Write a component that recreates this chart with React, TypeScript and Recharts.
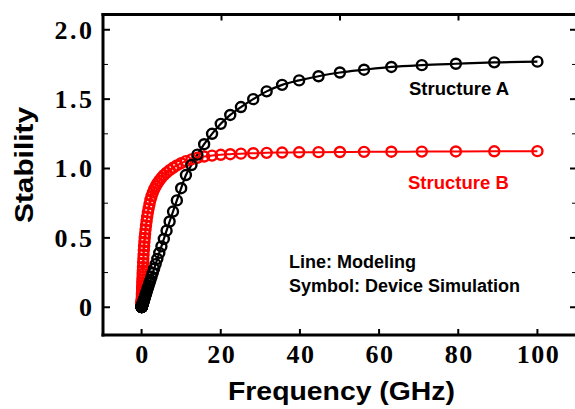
import { ComposedChart, Line, XAxis, YAxis } from "recharts";

// frequency points (GHz), 20 per decade
const FREQ = [
  0.01, 0.0112, 0.0126, 0.0141, 0.0158, 0.0178, 0.02, 0.0224, 0.0251, 0.0282, 0.0316, 0.0355, 0.0398,
  0.0447, 0.0501, 0.0562, 0.0631, 0.0708, 0.0794, 0.0891,
  0.1, 0.112, 0.126, 0.141, 0.158, 0.178, 0.2, 0.224, 0.251, 0.282, 0.316, 0.355, 0.398, 0.447, 0.501,
  0.562, 0.631, 0.708, 0.794, 0.891, 1, 1.12, 1.26, 1.41, 1.58, 1.78, 2, 2.24, 2.51, 2.82, 3.16, 3.55,
  3.98, 4.47, 5.01, 5.62, 6.31, 7.08, 7.94, 8.91, 10, 11.2, 12.6, 14.1, 15.8, 17.8, 20, 22.4, 25.1, 28.2,
  31.6, 35.5, 39.8, 44.7, 50.1, 56.2, 63.1, 70.8, 79.4, 89.1, 100,
];

const STRUCT_A = [
  0.001, 0.001, 0.001, 0.001, 0.001, 0.002, 0.002, 0.002, 0.002, 0.002, 0.003, 0.003, 0.004, 0.004, 0.004,
  0.005, 0.006, 0.006, 0.007, 0.008,
  0.009, 0.01, 0.011, 0.012, 0.014, 0.016, 0.018, 0.02, 0.022, 0.025, 0.028, 0.031, 0.035, 0.039, 0.044,
  0.049, 0.055, 0.062, 0.07, 0.078, 0.088, 0.098, 0.11, 0.124, 0.139, 0.156, 0.175, 0.196, 0.22, 0.247,
  0.277, 0.311, 0.349, 0.392, 0.439, 0.492, 0.552, 0.618, 0.69, 0.77, 0.858, 0.953, 1.025, 1.1, 1.175,
  1.25, 1.322, 1.386, 1.443, 1.5, 1.556, 1.603, 1.635, 1.665, 1.692, 1.712, 1.732, 1.745, 1.755, 1.765,
  1.77,
];

const STRUCT_B = [
  0.009, 0.01, 0.011, 0.013, 0.014, 0.016, 0.018, 0.02, 0.022, 0.025, 0.028, 0.031, 0.035, 0.039, 0.044,
  0.049, 0.055, 0.062, 0.069, 0.079,
  0.09, 0.101, 0.113, 0.126, 0.14, 0.157, 0.175, 0.195, 0.215, 0.24, 0.265, 0.29, 0.32, 0.35, 0.38, 0.41,
  0.44, 0.47, 0.5, 0.53, 0.56, 0.59, 0.62, 0.652, 0.683, 0.713, 0.743, 0.773, 0.8, 0.826, 0.85, 0.872,
  0.893, 0.913, 0.933, 0.952, 0.97, 0.988, 1.005, 1.022, 1.038, 1.053, 1.066, 1.077, 1.086, 1.093, 1.099,
  1.103, 1.107, 1.11, 1.113, 1.115, 1.117, 1.118, 1.119, 1.12, 1.121, 1.122, 1.123, 1.124, 1.125,
];

const X_TICKS = [0, 20, 40, 60, 80, 100];
const Y_TICKS = [0, 0.25, 0.5, 0.75, 1, 1.25, 1.5, 1.75, 2];
const Y_MAJOR = [0, 0.5, 1, 1.5, 2];
const Y_LABELS = ["0", "0.5", "1.0", "1.5", "2.0"];

const data = FREQ.map((f, i) => ({ f, a: STRUCT_A[i], b: STRUCT_B[i] }));

const GAP = 10;
const tickFont = {
  fontFamily: "'Liberation Serif', 'Times New Roman', serif",
  fontWeight: 700,
  fontSize: 26,
  fill: "#000",
};
const sans = "'Liberation Sans', Arial, sans-serif";

function LeftTick({ x, y, payload }: any) {
  const idx = Y_MAJOR.indexOf(payload.value);
  const major = idx >= 0;
  const ax = x + GAP;
  return (
    <g>
      <line x1={ax} x2={ax + (major ? 7 : 5)} y1={y} y2={y} stroke="#000" strokeWidth={major ? 2 : 1} />
      {major && (
        <text x={ax - 8.5} y={y} dy="0.34em" textAnchor="end" letterSpacing={2.5} style={tickFont}>
          {Y_LABELS[idx]}
        </text>
      )}
    </g>
  );
}

function RightTick({ x, y, payload }: any) {
  const major = Y_MAJOR.indexOf(payload.value) >= 0;
  const ax = x - GAP;
  return <line x1={ax} x2={ax - (major ? 7 : 5)} y1={y} y2={y} stroke="#000" strokeWidth={major ? 2 : 1} />;
}

function BottomTick({ x, y, payload }: any) {
  const ay = y - GAP;
  return (
    <g>
      <line x1={x} x2={x} y1={ay} y2={ay - 6} stroke="#000" strokeWidth={2} />
      <text x={x + 1} y={ay + 28} textAnchor="middle" letterSpacing={1.5} style={tickFont}>
        {payload.value}
      </text>
    </g>
  );
}

function TopTick({ x, y }: any) {
  const ay = y + GAP;
  return <line x1={x} x2={x} y1={ay} y2={ay + 6} stroke="#000" strokeWidth={2} />;
}

const frame = { stroke: "#000", strokeWidth: 3, strokeLinecap: "square" as const };

export default function App() {
  return (
    <div style={{ position: "fixed", left: 0, top: 0, width: 575, height: 409, overflow: "hidden", background: "#fff" }}>
      <div style={{ position: "relative", width: 580, height: 409 }}>
        <ComposedChart width={580} height={409} data={data} margin={{ top: 13.5, right: 0, bottom: 0, left: 0 }}>
          <XAxis
            dataKey="f"
            type="number"
            domain={[-9.75, 110]}
            allowDataOverflow
            ticks={X_TICKS}
            interval={0}
            height={74}
            tickSize={0}
            tickMargin={GAP}
            tickLine={false}
            axisLine={frame}
            tick={<BottomTick />}
          />
          <XAxis
            xAxisId="top"
            orientation="top"
            type="number"
            domain={[-9.75, 110]}
            allowDataOverflow
            ticks={X_TICKS}
            interval={0}
            height={1}
            tickSize={0}
            tickMargin={GAP}
            tickLine={false}
            axisLine={frame}
            tick={<TopTick />}
          />
          <YAxis
            type="number"
            domain={[-0.2, 2.11]}
            allowDataOverflow
            ticks={Y_TICKS}
            interval={0}
            width={103}
            tickSize={0}
            tickMargin={GAP}
            tickLine={false}
            axisLine={frame}
            tick={<LeftTick />}
          />
          <YAxis
            yAxisId="right"
            orientation="right"
            type="number"
            domain={[-0.2, 2.11]}
            allowDataOverflow
            ticks={Y_TICKS}
            interval={0}
            width={3}
            tickSize={0}
            tickMargin={GAP}
            tickLine={false}
            axisLine={frame}
            tick={<RightTick />}
          />
          <Line
            type="monotone"
            dataKey="b"
            stroke="#ff0000"
            strokeWidth={2}
            dot={{ r: 5, stroke: "#ff0000", strokeWidth: 2.4, fill: "none" }}
            activeDot={false}
            isAnimationActive={false}
          />
          <Line
            type="monotone"
            dataKey="a"
            stroke="#000"
            strokeWidth={2.2}
            dot={{ r: 5, stroke: "#000", strokeWidth: 2.4, fill: "none" }}
            activeDot={false}
            isAnimationActive={false}
          />
        </ComposedChart>
        <svg
          width={580}
          height={409}
          style={{ position: "absolute", left: 0, top: 0, pointerEvents: "none" }}
          fontFamily={sans}
          fontWeight={700}
        >
          <text
            x={33}
            y={165}
            transform="rotate(-90 33 165)"
            textAnchor="middle"
            fontSize={26}
            textLength={116}
            lengthAdjust="spacingAndGlyphs"
          >
            Stability
          </text>
          <text x={341.5} y={400} textAnchor="middle" fontSize={25} textLength={227} lengthAdjust="spacingAndGlyphs">
            Frequency (GHz)
          </text>
          <text x={409} y={95} fontSize={18.5}>
            Structure A
          </text>
          <text x={408} y={189} fontSize={18.5} fill="#ff0000">
            Structure B
          </text>
          <text x={289} y={268} fontSize={18}>
            Line: Modeling
          </text>
          <text x={289} y={292} fontSize={18}>
            Symbol: Device Simulation
          </text>
        </svg>
      </div>
    </div>
  );
}
